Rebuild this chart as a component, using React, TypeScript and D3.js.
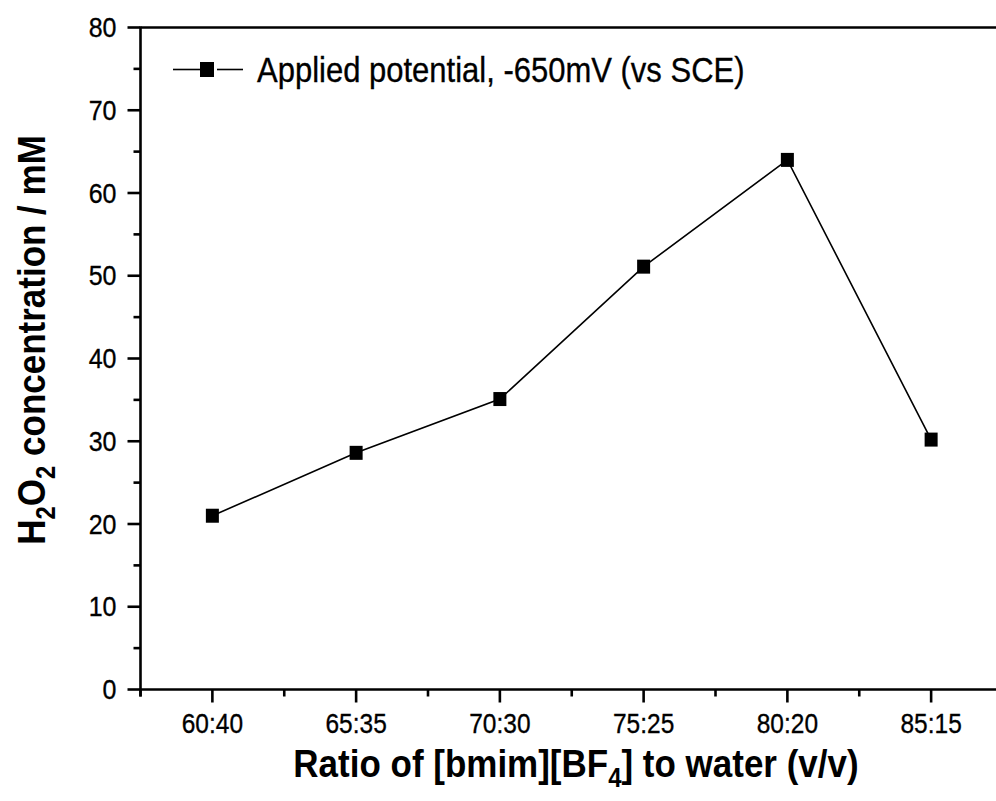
import React from "react";
import * as d3 from "d3";

const categories = ["60:40", "65:35", "70:30", "75:25", "80:20", "85:15"];
const values = [21.0, 28.6, 35.1, 51.1, 64.0, 30.2];
const yMajorTicks = [0, 10, 20, 30, 40, 50, 60, 70, 80];
const yMinorTicks = [5, 15, 25, 35, 45, 55, 65, 75];
const legendLabel = "Applied potential, -650mV (vs SCE)";

const W = 996;
const H = 801;
const FONT = "'Liberation Sans', Arial, Helvetica, sans-serif";
const SY = 1.12;

export default function App() {
  const x = d3.scaleLinear().domain([-0.5, categories.length - 0.5]).range([140.5, 1003]);
  const y = d3.scaleLinear().domain([0, 80]).range([689.5, 27.5]);
  const line = d3
    .line<number>()
    .x((_, i) => x(i))
    .y((d) => y(d));
  const minorX = d3.range(-0.5, categories.length, 1);
  const axisW = 2.6;
  const mw = 13;
  const mh = 14;

  return (
    <svg
      width={W}
      height={H}
      viewBox={`0 0 ${W} ${H}`}
      style={{ position: "absolute", left: 0, top: 0, background: "#fff" }}
      fontFamily={FONT}
    >
      <rect x={0} y={0} width={W} height={H} fill="#fff" />
      {/* frame */}
      <line x1={x(-0.5)} x2={W} y1={y(80)} y2={y(80)} stroke="#000" strokeWidth={axisW} />
      <line x1={x(-0.5)} x2={W} y1={y(0)} y2={y(0)} stroke="#000" strokeWidth={axisW} />
      <line x1={x(-0.5)} x2={x(-0.5)} y1={y(80) - 1} y2={y(0) + 7} stroke="#000" strokeWidth={axisW} />
      {/* y ticks */}
      {yMajorTicks.map((t) => (
        <g key={"ym" + t}>
          <line x1={x(-0.5) - 13} x2={x(-0.5)} y1={y(t)} y2={y(t)} stroke="#000" strokeWidth={axisW} />
          <text
            transform={`translate(${x(-0.5) - 24},${y(t) + 9.5}) scale(1,${SY})`}
            textAnchor="end"
            fontSize={25}
            fill="#000"
            stroke="#000"
            strokeWidth={0.3}
          >
            {t}
          </text>
        </g>
      ))}
      {yMinorTicks.map((t) => (
        <line key={"yn" + t} x1={x(-0.5) - 7} x2={x(-0.5)} y1={y(t)} y2={y(t)} stroke="#000" strokeWidth={axisW} />
      ))}
      {/* x ticks */}
      {categories.map((c, i) => (
        <g key={"xm" + c}>
          <line x1={x(i)} x2={x(i)} y1={y(0)} y2={y(0) + 13} stroke="#000" strokeWidth={axisW} />
          <text
            transform={`translate(${x(i)},${733}) scale(1,${SY})`}
            textAnchor="middle"
            fontSize={24.5}
            fill="#000"
            stroke="#000"
            strokeWidth={0.3}
          >
            {c}
          </text>
        </g>
      ))}
      {minorX.map((v) => (
        <line key={"xn" + v} x1={x(v)} x2={x(v)} y1={y(0)} y2={y(0) + 7} stroke="#000" strokeWidth={axisW} />
      ))}
      {/* data */}
      <path d={line(values) || ""} fill="none" stroke="#000" strokeWidth={1.6} />
      {values.map((v, i) => (
        <rect key={"p" + i} x={x(i) - mw / 2} y={y(v) - mh / 2} width={mw} height={mh} fill="#000" />
      ))}
      {/* legend */}
      <line x1={173} x2={200} y1={69.5} y2={69.5} stroke="#000" strokeWidth={1.6} />
      <line x1={217} x2={243} y1={69.5} y2={69.5} stroke="#000" strokeWidth={1.6} />
      <rect x={200} y={62} width={14} height={15} fill="#000" />
      <text
        transform={`translate(257,82) scale(1,${SY})`}
        fontSize={31}
        fill="#000"
        stroke="#000"
        strokeWidth={0.3}
      >
        {legendLabel}
      </text>
      {/* x title */}
      <text
        transform={`translate(576,777) scale(1,${SY})`}
        textAnchor="middle"
        fontSize={35}
        fontWeight="bold"
        fill="#000"
      >
        Ratio of [bmim][BF
        <tspan fontSize={24} dy={9}>4</tspan>
        <tspan dy={-9}>] to water (v/v)</tspan>
      </text>
      {/* y title */}
      <text
        transform={`translate(45,340) rotate(-90) scale(1,${SY})`}
        textAnchor="middle"
        fontSize={35}
        fontWeight="bold"
        fill="#000"
      >
        H<tspan fontSize={24} dy={9}>2</tspan>
        <tspan dy={-9}>O</tspan>
        <tspan fontSize={24} dy={9}>2</tspan>
        <tspan dy={-9}> concentration / mM</tspan>
      </text>
    </svg>
  );
}
